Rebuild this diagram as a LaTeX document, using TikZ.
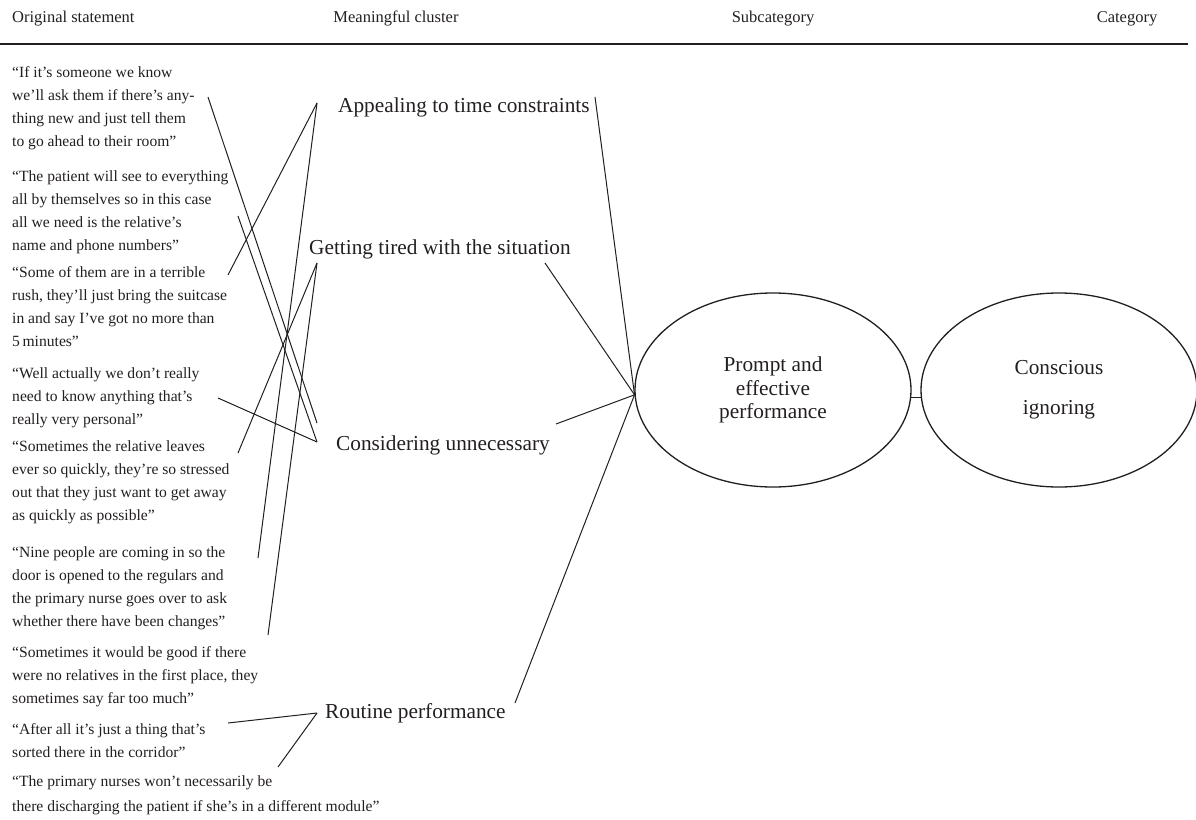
\documentclass[tikz,border=0pt]{standalone}
\usepackage{fontspec}
\setmainfont{Liberation Serif}
\usetikzlibrary{shapes.geometric,calc}
\definecolor{ink}{RGB}{35,31,32}
\begin{document}
\begin{tikzpicture}[x=1pt,y=-1pt,
  quote/.style={anchor=north west,inner sep=0pt,align=left,font=\fontsize{15.6}{23}\selectfont,text=ink},
  head/.style={anchor=base,inner sep=0pt,font=\fontsize{16.5}{20}\selectfont,text=ink},
  cluster/.style={anchor=base west,inner sep=0pt,font=\fontsize{21.3}{25}\selectfont,text=ink},
  oval/.style={ellipse,draw=ink,line width=1.3pt,minimum width=276pt,minimum height=194pt,inner sep=0pt,align=center,text=ink},
  link/.style={draw=ink,line width=1pt}]
\useasboundingbox (0,0) rectangle (1196,819);

% headers
\node[head,anchor=base west] (h1) at (12,22) {Original statement};
\node[head] (h2) at (396,22) {Meaningful cluster};
\node[head] (h3) at (773,22) {Subcategory};
\node[head] (h4) at (1127,22) {Category};
\draw[ink,line width=1.5pt] (0,44) -- (1188,44);

% original statements
\node[quote] (q1) at (12,66) {“If it’s someone we know\\we’ll ask them if there’s any-\\thing new and just tell them\\to go ahead to their room”};
\node[quote] (q2) at (12,170) {“The patient will see to everything\\all by themselves so in this case\\all we need is the relative’s\\name and phone numbers”};
\node[quote] (q3) at (12,266) {“Some of them are in a terrible\\rush, they’ll just bring the suitcase\\in and say I’ve got no more than\\5\,minutes”};
\node[quote] (q4) at (12,367) {“Well actually we don’t really\\need to know anything that’s\\really very personal”};
\node[quote] (q5) at (12,440) {“Sometimes the relative leaves\\ever so quickly, they’re so stressed\\out that they just want to get away\\as quickly as possible”};
\node[quote] (q6) at (12,546) {“Nine people are coming in so the\\door is opened to the regulars and\\the primary nurse goes over to ask\\whether there have been changes”};
\node[quote] (q7) at (12,646) {“Sometimes it would be good if there\\were no relatives in the first place, they\\sometimes say far too much”};
\node[quote] (q8) at (12,723) {“After all it’s just a thing that’s\\sorted there in the corridor”};
\node[quote,font=\fontsize{15.6}{25}\selectfont] (q9) at (12,775) {“The primary nurses won’t necessarily be\\there discharging the patient if she’s in a different module”};

% meaningful clusters
\node[cluster] (Ap) at (338,112) {Appealing to time constraints};
\node[cluster] (Gt) at (309,254) {Getting tired with the situation};
\node[cluster] (Cu) at (336,450) {Considering unnecessary};
\node[cluster] (Rp) at (325,718) {Routine performance};

% subcategory and category
\node[oval,font=\fontsize{21.3}{23.5}\selectfont] (E1) at (773,390) {Prompt and\\effective\\performance};
\node[oval,font=\fontsize{21.3}{40}\selectfont] (E2) at (1059,390) {Conscious\\ignoring};

% connector end points
\coordinate (a) at (317,103);
\coordinate (g) at (317,263);
\coordinate (c1) at (317,423);
\coordinate (c2) at (317,442);
\coordinate (r) at (317,713);
\coordinate (e1) at (208,97);
\coordinate (e2) at (238,216);
\coordinate (e3) at (228,275);
\coordinate (e4) at (218,398);
\coordinate (e5) at (238,453);
\coordinate (e6) at (258,558);
\coordinate (e7) at (268,635);
\coordinate (e8) at (228,723);
\coordinate (e9) at (278,767);
\coordinate (ar) at (595,97);
\coordinate (gr) at (545,263);
\coordinate (cr) at (556,424);
\coordinate (rr) at (515,703);
\coordinate (p) at (E1.182);

% statement -> cluster
\draw[link] (e1) -- (c1);
\draw[link] (e2) -- (c2);
\draw[link] (e3) -- (a);
\draw[link] (e4) -- (c2);
\draw[link] (e5) -- (g);
\draw[link] (e6) -- (a);
\draw[link] (e7) -- (g);
\draw[link] (e8) -- (r);
\draw[link] (e9) -- (r);

% cluster -> subcategory
\draw[link] (ar) -- (p);
\draw[link] (gr) -- (p);
\draw[link] (cr) -- (p);
\draw[link] (rr) -- (p);

% subcategory -> category
\draw[link] (E1.-3) -- (E2.183);
\end{tikzpicture}
\end{document}
